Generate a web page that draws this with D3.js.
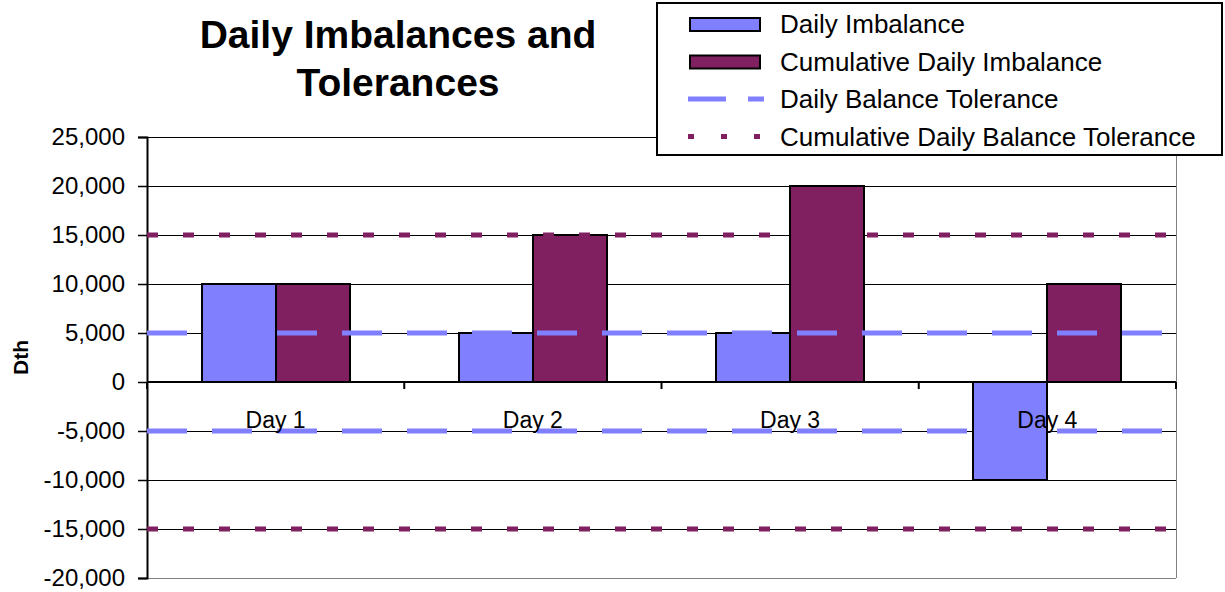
<!DOCTYPE html>
<html>
<head>
<meta charset="utf-8">
<script src="https://cdn.jsdelivr.net/npm/d3@7"></script>
<style>
  body { margin: 0; background: #fff; }
  text { font-family: "Liberation Sans", Arial, sans-serif; }
</style>
</head>
<body>
<div id="chart"></div>
<script>
// chart data
const days = ["Day 1", "Day 2", "Day 3", "Day 4"];
const dailyImbalance = [10000, 5000, 5000, -10000];
const cumulativeImbalance = [10000, 15000, 20000, 10000];
const dailyTolerance = [5000, 5000, 5000, 5000];
const cumulativeTolerance = [15000, 15000, 15000, 15000];
const yTicks = [25000, 20000, 15000, 10000, 5000, 0, -5000, -10000, -15000, -20000];

const width = 1225;
const height = 592;
const plot = { left: 147, right: 1176, top: 137, bottom: 578 };

const blue = "#8080ff";
const purple = "#802060";

// plain hyphen for negatives, like the original
const fmt = d3.formatLocale({ decimal: ".", thousands: ",", grouping: [3], currency: ["", ""], minus: "-" }).format(",");

const svg = d3.select("#chart")
  .append("svg")
  .attr("width", width)
  .attr("height", height);

const y = d3.scaleLinear()
  .domain([-20000, 25000])
  .range([plot.bottom, plot.top]);

const x0 = d3.scaleBand()
  .domain(days)
  .range([plot.left, plot.right])
  .paddingInner(0.424)
  .paddingOuter(0.212);

const x1 = d3.scaleBand()
  .domain(["daily", "cumulative"])
  .range([0, x0.bandwidth()]);

// tolerance lines span the whole plot width
const xLine = d3.scalePoint()
  .domain(days)
  .range([plot.left, plot.right]);

// gridlines
svg.append("g")
  .attr("shape-rendering", "crispEdges")
  .selectAll("line")
  .data(yTicks)
  .enter()
  .append("line")
  .attr("x1", plot.left)
  .attr("x2", plot.right)
  .attr("y1", d => y(d))
  .attr("y2", d => y(d))
  .attr("stroke", d => d === -20000 ? "#808080" : "#000")
  .attr("stroke-width", 1);

// right border
svg.append("line")
  .attr("shape-rendering", "crispEdges")
  .attr("x1", plot.right).attr("x2", plot.right)
  .attr("y1", plot.top).attr("y2", plot.bottom)
  .attr("stroke", "#808080").attr("stroke-width", 1);

// bars
const groups = svg.append("g")
  .attr("shape-rendering", "crispEdges")
  .selectAll("g")
  .data(days)
  .enter()
  .append("g")
  .attr("transform", d => `translate(${x0(d)},0)`);

groups.append("rect")
  .attr("x", x1("daily"))
  .attr("width", x1.bandwidth())
  .attr("y", (d, i) => y(Math.max(0, dailyImbalance[i])))
  .attr("height", (d, i) => Math.abs(y(dailyImbalance[i]) - y(0)))
  .attr("fill", blue)
  .attr("stroke", "#000")
  .attr("stroke-width", 2);

groups.append("rect")
  .attr("x", x1("cumulative"))
  .attr("width", x1.bandwidth())
  .attr("y", (d, i) => y(Math.max(0, cumulativeImbalance[i])))
  .attr("height", (d, i) => Math.abs(y(cumulativeImbalance[i]) - y(0)))
  .attr("fill", purple)
  .attr("stroke", "#000")
  .attr("stroke-width", 2);

// y axis
const yAxis = svg.append("g")
  .attr("transform", `translate(${plot.left},0)`)
  .call(d3.axisLeft(y).tickValues(yTicks).tickSize(9).tickPadding(13)
    .tickFormat(fmt));
yAxis.select(".domain").attr("stroke", "#000").attr("stroke-width", 2);
yAxis.selectAll(".tick line").attr("stroke", "#000").attr("stroke-width", 1.5);
yAxis.selectAll(".tick text")
  .attr("font-size", 24)
  .attr("fill", "#000")
  .style("font-family", "'Liberation Sans', Arial, sans-serif");

// zero line with category ticks
svg.append("line")
  .attr("x1", plot.left).attr("x2", plot.right)
  .attr("y1", y(0)).attr("y2", y(0))
  .attr("stroke", "#000").attr("stroke-width", 2);

const catTicks = days.map(d => x0(d) - x0.step() * x0.paddingOuter()).concat([plot.right]);
svg.append("g")
  .selectAll("line")
  .data(catTicks)
  .enter()
  .append("line")
  .attr("x1", d => d).attr("x2", d => d)
  .attr("y1", y(0)).attr("y2", y(0) + 7)
  .attr("stroke", "#000").attr("stroke-width", 2);

// tolerance lines
const line = d3.line()
  .x((d, i) => xLine(days[i]))
  .y(d => y(d));

const toleranceSeries = [
  { values: dailyTolerance, color: blue, dash: "40,25" },
  { values: dailyTolerance.map(v => -v), color: blue, dash: "40,25" },
  { values: cumulativeTolerance, color: purple, dash: "11,25" },
  { values: cumulativeTolerance.map(v => -v), color: purple, dash: "11,25" }
];

svg.append("g")
  .selectAll("path")
  .data(toleranceSeries)
  .enter()
  .append("path")
  .attr("d", d => line(d.values))
  .attr("fill", "none")
  .attr("stroke", d => d.color)
  .attr("stroke-width", 5)
  .attr("stroke-dasharray", d => d.dash);

// category labels
svg.append("g")
  .selectAll("text")
  .data(days)
  .enter()
  .append("text")
  .attr("x", d => x0(d) + x0.bandwidth() / 2)
  .attr("y", y(0) + 46)
  .attr("text-anchor", "middle")
  .attr("font-size", 23)
  .text(d => d);

// y title
svg.append("text")
  .attr("transform", `translate(28, ${y(2500)}) rotate(-90)`)
  .attr("text-anchor", "middle")
  .attr("font-size", 21)
  .attr("font-weight", "bold")
  .text("Dth");

// chart title
svg.append("text")
  .attr("x", 398)
  .attr("y", 48)
  .attr("text-anchor", "middle")
  .attr("font-size", 39)
  .attr("font-weight", "bold")
  .text("Daily Imbalances and");
svg.append("text")
  .attr("x", 398)
  .attr("y", 96)
  .attr("text-anchor", "middle")
  .attr("font-size", 39)
  .attr("font-weight", "bold")
  .text("Tolerances");

// legend
const legend = svg.append("g").attr("transform", "translate(657, 3)");
legend.append("rect")
  .attr("width", 565)
  .attr("height", 152)
  .attr("fill", "#fff")
  .attr("stroke", "#000")
  .attr("stroke-width", 2);

const legendItems = [
  { label: "Daily Imbalance", type: "bar", color: blue },
  { label: "Cumulative Daily Imbalance", type: "bar", color: purple },
  { label: "Daily Balance Tolerance", type: "line", color: blue, dash: "38,22" },
  { label: "Cumulative Daily Balance Tolerance", type: "line", color: purple, dash: "6,27" }
];

const rows = legend.selectAll("g.item")
  .data(legendItems)
  .enter()
  .append("g")
  .attr("class", "item")
  .attr("transform", (d, i) => `translate(0, ${21 + i * 37.5})`);

rows.filter(d => d.type === "bar")
  .append("rect")
  .attr("x", 33)
  .attr("y", -6)
  .attr("width", 70)
  .attr("height", 13)
  .attr("fill", d => d.color)
  .attr("stroke", "#000")
  .attr("stroke-width", 2);

rows.filter(d => d.type === "line")
  .append("line")
  .attr("x1", 31)
  .attr("x2", 107)
  .attr("y1", 0)
  .attr("y2", 0)
  .attr("stroke", d => d.color)
  .attr("stroke-width", 5)
  .attr("stroke-dasharray", d => d.dash);

rows.append("text")
  .attr("x", 123)
  .attr("y", 9)
  .attr("font-size", 26)
  .text(d => d.label);
</script>
</body>
</html>
